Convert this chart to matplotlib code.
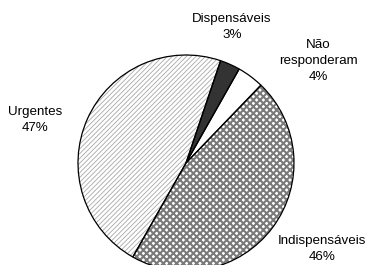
import matplotlib
matplotlib.use("Agg")
from matplotlib import pyplot as plt

plt.rcParams['font.family'] = ['Liberation Sans', 'DejaVu Sans']

labels = ["Indispensáveis", "Urgentes", "Dispensáveis", "Não\nresponderam"]
values = [46, 47, 3, 4]
pct_text = ["46%", "47%", "3%", "4%"]

faces = ["white", "white", "#333333", "white"]
hatch_col = ["#7a7a7a", "#a8a8a8", "#333333", "white"]
hatches = ["xxxxx", "///////", None, None]
hatch_lw = [1.5, 0.6, 1.0, 1.0]

# label anchor points, pixel coords from the top left
label_pos = [(322, 249), (35, 120), (232, 27), (318, 61)]

W, H = 366, 265
fig = plt.figure(figsize=(W / 100, H / 100), dpi=100)
ax = fig.add_axes([0, 0, 1, 1])

cx, cy, r = 186, H - 163, 108
start = 46.1

# hatch layer (hatch colour comes from edgecolor)
wedges, _ = ax.pie(values, startangle=start, counterclock=False, center=(cx, cy),
                   radius=r, colors=faces, wedgeprops=dict(linewidth=0))
for w, h, hc, hl in zip(wedges, hatches, hatch_col, hatch_lw):
    if h:
        w.set_hatch(h)
        w.set_edgecolor(hc)
        if hasattr(w, "set_hatch_linewidth"):
            w.set_hatch_linewidth(hl)

# black outlines on top
ax.pie(values, startangle=start, counterclock=False, center=(cx, cy), radius=r,
       wedgeprops=dict(fill=False, edgecolor="black", linewidth=0.9))

for lab, p, (x, y) in zip(labels, pct_text, label_pos):
    ax.text(x, H - y, lab + "\n" + p, ha="center", va="center", fontsize=9.6,
            linespacing=1.5, color="black")

ax.set_xlim(0, W)
ax.set_ylim(0, H)
ax.set_aspect("equal")
ax.axis("off")

plt.savefig("out.png", dpi=100)
